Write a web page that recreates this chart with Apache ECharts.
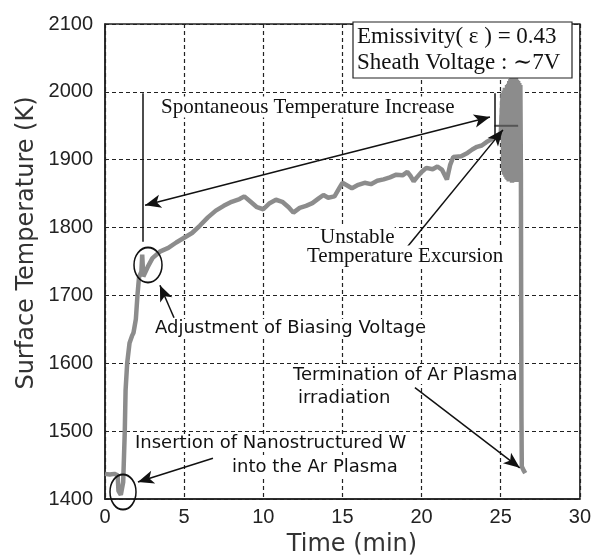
<!DOCTYPE html>
<html>
<head>
<meta charset="utf-8">
<script src="https://cdn.jsdelivr.net/npm/echarts@6/dist/echarts.min.js"></script>
<style>
  html, body { margin: 0; padding: 0; background: #fff; }
  #chart { width: 594px; height: 558px; }
</style>
</head>
<body>
<div id="chart"></div>
<script>
// time axis (min) and measured surface temperature (K)
const timeMin = [
  0, 0.3, 0.6, 0.8, 0.85, 1.0, 1.1, 1.15, 1.25, 1.3, 1.4, 1.55, 1.7, 1.8, 1.95, 2.05, 2.15, 2.3, 2.35, 2.4, 2.42,
  2.7, 3.0, 3.5, 4.0, 4.5, 5.0, 5.5, 6.0, 6.5, 7.0, 7.5, 8.0, 8.5, 8.8, 9.2, 9.6, 10.0, 10.4, 10.8,
  11.2, 11.6, 11.9, 12.3, 12.7, 13.1, 13.5, 13.8, 14.1, 14.5, 14.8, 15.0, 15.3, 15.6, 16.0, 16.4, 16.8,
  17.2, 17.6, 18.0, 18.4, 18.8, 19.1, 19.3, 19.5, 19.7, 20.0, 20.3, 20.7, 21.0, 21.3, 21.6, 21.8, 22.0,
  22.5, 22.9, 23.2, 23.5, 23.8, 24.1, 24.4, 24.7, 25.0, 25.1,
  25.12, 25.155, 25.19, 25.225, 25.26, 25.295, 25.33, 25.365, 25.40, 25.435, 25.47, 25.505, 25.54, 25.575,
  25.61, 25.645, 25.68, 25.715, 25.75, 25.785, 25.82, 25.855, 25.89, 25.925, 25.96, 25.995, 26.03, 26.065,
  26.10, 26.135, 26.17, 26.205, 26.24, 26.275,
  26.29, 26.31, 26.33, 26.45, 26.55
];
const tempK = [
  1437, 1436, 1437, 1435, 1412, 1406, 1408, 1425, 1500, 1560, 1600, 1630, 1640, 1645, 1665, 1700, 1727, 1735, 1760, 1760, 1728,
  1742, 1755, 1765, 1770, 1778, 1785, 1792, 1803, 1815, 1825, 1832, 1838, 1842, 1846, 1838, 1830, 1827, 1836, 1841,
  1838, 1830, 1822, 1829, 1832, 1836, 1843, 1848, 1844, 1846, 1858, 1866, 1862, 1858, 1863, 1866, 1864,
  1869, 1871, 1874, 1878, 1877, 1882, 1876, 1868, 1874, 1882, 1888, 1886, 1890, 1885, 1871, 1892, 1904,
  1905, 1910, 1915, 1919, 1921, 1926, 1930, 1934, 1938, 1940,
  1998, 1882, 2002, 1878, 2006, 1875, 2004, 1872, 2010, 1870, 2012, 1868, 2016, 1872,
  2019, 1869, 2021, 1866, 2017, 1870, 2022, 1868, 2020, 1871, 2021, 1867, 2018, 1872,
  2016, 1875, 2013, 1870, 2010, 1880,
  1700, 1520, 1448, 1442, 1438
];
const xRange = [0, 30, 5];
const yRange = [1400, 2100, 100];

// annotation arrows: [fromTime, fromTemp, toTime, toTemp]
const arrows = [
  [13.4, 1898, 2.53, 1833],
  [13.4, 1898, 24.32, 1963],
  [4.36, 1667, 3.47, 1715],
  [6.82, 1460, 2.08, 1425],
  [19.58, 1564, 26.2, 1446],
  [19.08, 1771, 25.14, 1944]
];
// plain segments (no heads)
const segments = [
  [2.4, 1779, 2.4, 1998],
  [24.6, 1936, 24.6, 1998]
];

const chart = echarts.init(document.getElementById('chart'));

const serif = '"Liberation Serif", "DejaVu Serif", serif';
const sans = '"DejaVu Sans", sans-serif';
const num = '"Liberation Sans", Arial, sans-serif';

const markData = arrows.map(a => [
  { coord: [a[0], a[1]], symbol: 'none' },
  { coord: [a[2], a[3]], symbol: 'arrow' }
]).concat(segments.map(s => [
  { coord: [s[0], s[1]], symbol: 'none' },
  { coord: [s[2], s[3]], symbol: 'none' }
]));

function txt(text, x, y, size, family) {
  return {
    type: 'text', x: x, y: y, z: 50,
    style: {
      text: text, fill: '#111', font: size + 'px ' + family,
      verticalAlign: 'middle', backgroundColor: '#fff'
    }
  };
}

const option = {
  animation: false,
  grid: {
    left: 105, right: 14, top: 24, bottom: 59,
    show: true, borderColor: '#222', borderWidth: 1.5
  },
  xAxis: {
    type: 'value', min: xRange[0], max: xRange[1], interval: xRange[2],
    axisLine: { lineStyle: { color: '#222', width: 1.5 } },
    axisTick: { show: false },
    axisLabel: { fontSize: 20, fontFamily: num, color: '#222', margin: 8 },
    splitLine: { show: true, lineStyle: { color: '#222', type: [4, 3], width: 1.2 } }
  },
  yAxis: {
    type: 'value', min: yRange[0], max: yRange[1], interval: yRange[2],
    axisLine: { show: true, lineStyle: { color: '#222', width: 1.5 } },
    axisTick: { show: false },
    axisLabel: { fontSize: 20, fontFamily: num, color: '#222', margin: 12, formatter: v => String(v) },
    splitLine: { show: true, lineStyle: { color: '#222', type: [4, 3], width: 1.2 } }
  },
  series: [{
    type: 'line',
    data: timeMin.map((t, i) => [t, tempK[i]]),
    showSymbol: false,
    lineStyle: { color: '#8c8c8c', width: 4.5 },
    z: 3,
    markLine: {
      silent: true,
      symbol: ['none', 'arrow'],
      symbolSize: [10, 16],
      label: { show: false },
      lineStyle: { color: '#111', width: 1.5, type: 'solid' },
      data: markData
    }
  }, {
    // dark level line across the unstable band
    type: 'line',
    data: [[24.6, 1950], [26.1, 1950]],
    showSymbol: false,
    lineStyle: { color: '#555', width: 2 },
    z: 4
  }],
  graphic: [
    { type: 'text', x: 27, y: 243, rotation: Math.PI / 2,
      style: { text: 'Surface Temperature (K)', font: '24px ' + sans, fill: '#333',
               align: 'center', verticalAlign: 'middle' } },
    { type: 'text', x: 352, y: 545,
      style: { text: 'Time (min)', font: '24px ' + sans, fill: '#333',
               align: 'center', verticalAlign: 'middle' } },
    { type: 'rect', x: 353, y: 22, z: 49,
      shape: { width: 219, height: 56 },
      style: { fill: '#fff', stroke: '#222', lineWidth: 1.2 } },
    txt('Emissivity( \u03b5 ) = 0.43', 357, 37, 23, serif),
    txt('Sheath Voltage : \u223c7V', 357, 63, 23, serif),
    txt('Spontaneous Temperature Increase', 161, 107, 21, serif),
    txt('Unstable', 320, 237, 21, serif),
    txt('Temperature Excursion', 307, 256, 21, serif),
    txt('Adjustment of Biasing Voltage', 155, 328, 18, sans),
    txt('Termination of Ar Plasma', 293, 375, 18, sans),
    txt('irradiation', 298, 398, 18, sans),
    txt('Insertion of Nanostructured W', 135, 443, 18, sans),
    txt('into the Ar Plasma', 232, 467, 18, sans),
    { type: 'circle', x: 148, y: 265, scaleY: 1.25, z: 51,
      shape: { cx: 0, cy: 0, r: 14 },
      style: { fill: 'none', stroke: '#111', lineWidth: 1.5 } },
    { type: 'circle', x: 123, y: 492, scaleY: 1.35, z: 51,
      shape: { cx: 0, cy: 0, r: 13 },
      style: { fill: 'none', stroke: '#111', lineWidth: 1.5 } }
  ]
};

chart.setOption(option);
window.addEventListener('resize', () => chart.resize());
</script>
</body>
</html>
